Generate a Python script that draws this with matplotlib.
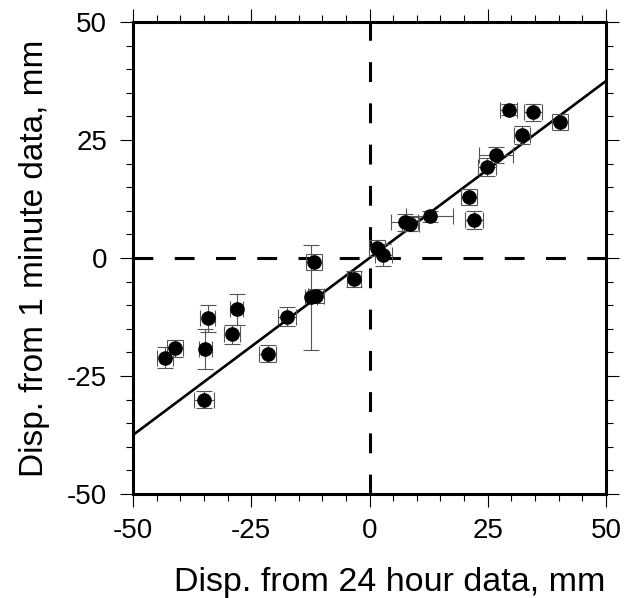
import matplotlib
matplotlib.use("Agg")
import matplotlib.pyplot as plt
from matplotlib.ticker import MultipleLocator

# displacement from 24 hour solution (x) vs 1 minute solution (y), mm
disp_24h = [-43.2, -41.1, -34.2, -34.7, -35.0, -28.1, -29.1, -21.5, -17.5,
            -12.4, -11.4, -11.7, -3.3, 1.5, 2.9, 7.4, 8.6, 12.7,
            21.0, 22.1, 24.8, 26.8, 29.4, 32.2, 34.5, 40.2]
disp_1min = [-21.1, -19.1, -12.8, -19.3, -30.0, -10.9, -16.2, -20.3, -12.4,
             -8.3, -8.0, -0.8, -4.45, 2.2, 0.7, 7.6, 7.2, 8.8,
             12.9, 8.0, 19.3, 21.8, 31.4, 26.1, 30.9, 28.8]
err_24h = [1.75, 1.65, 1.6, 1.4, 2.1, 1.4, 1.65, 1.8, 1.9,
           1.2, 1.7, 1.75, 1.5, 1.7, 1.8, 2.9, 1.8, 4.9,
           1.7, 2.0, 1.9, 3.6, 1.8, 1.75, 1.9, 1.7]
err_1min = [2.2, 1.8, 2.8, 4.3, 1.8, 3.3, 2.1, 1.8, 2.1,
            11.1, 1.5, 1.7, 1.6, 1.7, 2.3, 1.8, 1.5, 1.2,
            1.7, 1.9, 1.9, 1.7, 1.2, 1.9, 1.8, 1.7]
fit_slope = 0.75
axis_range = [-50, 50]

plt.rcParams['font.family'] = ['Liberation Sans', 'DejaVu Sans']
plt.rcParams['axes.unicode_minus'] = False

fig = plt.figure(figsize=(6.34, 5.98), dpi=100)
ax = fig.add_axes([133/634, 1 - 494/598, 473/634, 472/598])

# zero lines (dashed)
ax.axhline(0, color='black', lw=2.2, dashes=(6.5, 7), zorder=1)
ax.axvline(0, color='black', lw=2.2, dashes=(6.5, 7), zorder=1)

# fit line
ax.plot(axis_range, [fit_slope * v for v in axis_range], color='black', lw=1.9, zorder=2)

# error bars + points
ax.errorbar(disp_24h, disp_1min, xerr=err_24h, yerr=err_1min, fmt='none',
            ecolor='#555555', elinewidth=0.8, capsize=5.8, capthick=0.8, zorder=3)
ax.plot(disp_24h, disp_1min, 'o', color='black', ms=9.5, zorder=4)

ax.set_xlim(axis_range)
ax.set_ylim(axis_range)

ax.xaxis.set_major_locator(MultipleLocator(25))
ax.xaxis.set_minor_locator(MultipleLocator(5))
ax.yaxis.set_major_locator(MultipleLocator(25))
ax.yaxis.set_minor_locator(MultipleLocator(5))
ax.tick_params(which='both', direction='out', top=True, right=True, width=0.8)
ax.tick_params(which='major', length=9.5, labelsize=20)
ax.tick_params(axis='x', which='major', pad=8)
ax.tick_params(axis='y', which='major', pad=9)
ax.tick_params(which='minor', length=5)

for s in ax.spines.values():
    s.set_linewidth(2.2)

ax.set_xlabel('Disp. from 24 hour data, mm', fontsize=24.5)
ax.xaxis.set_label_coords(0.543, -0.155)
ax.set_ylabel('Disp. from 1 minute data, mm', fontsize=24, labelpad=12)

fig.savefig('out.png', dpi=100)
